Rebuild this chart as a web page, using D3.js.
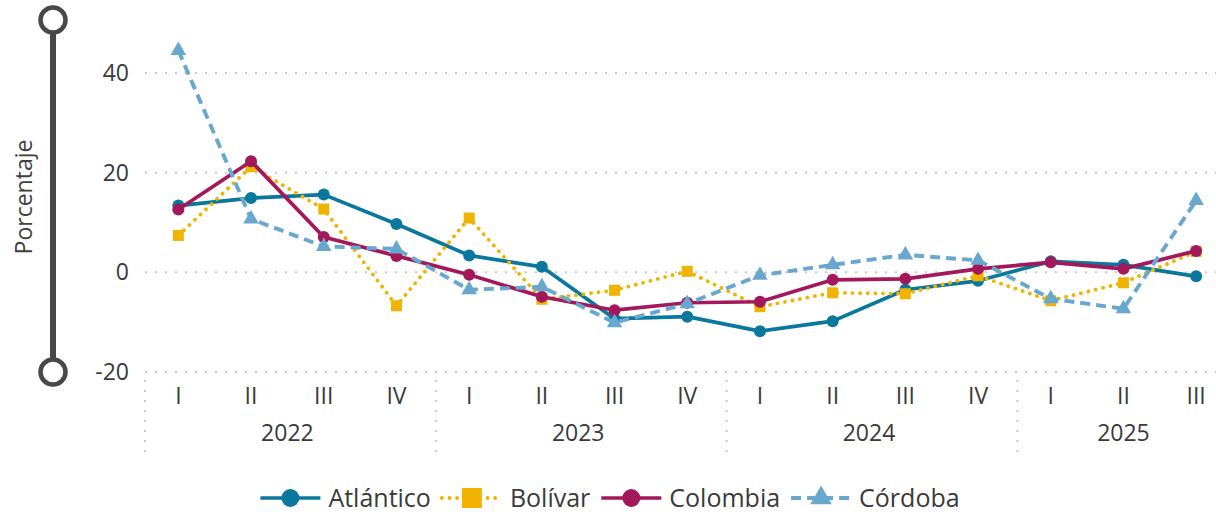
<!DOCTYPE html>
<html><head><meta charset="utf-8">
<script src="https://cdn.jsdelivr.net/npm/d3@7"></script>
<style>body{margin:0;background:#fff}svg{display:block}text{font-family:"Open Sans","Noto Sans",sans-serif}</style>
</head><body><svg id="c" width="1216" height="515"></svg>
<script>
const quarters = ["I","II","III","IV","I","II","III","IV","I","II","III","IV","I","II","III"];
const years = ["2022","2023","2024","2025"];
const yearOfPoint = [0,0,0,0,1,1,1,1,2,2,2,2,3,3,3];
const yTicks = [-20,0,20,40];
const atlantico = [13.4,14.9,15.6,9.7,3.4,1.1,-9.3,-8.9,-11.8,-9.8,-3.5,-1.7,2.2,1.5,-0.8];
const bolivar   = [7.4,21.2,12.7,-6.7,10.9,-5.4,-3.6,0.2,-6.9,-4.1,-4.3,-0.7,-5.7,-2.1,4.2];
const colombia  = [12.6,22.3,7.1,3.3,-0.5,-4.9,-7.6,-6.1,-5.9,-1.5,-1.3,0.7,2.0,0.7,4.3];
const cordoba   = [44.5,10.7,5.2,4.7,-3.5,-2.9,-10.1,-6.3,-0.6,1.5,3.5,2.4,-5.3,-7.3,14.4];

const series = [
  {name:"Atlántico", values:atlantico, color:"#0a779c", dash:null, width:3.7, marker:"circle"},
  {name:"Bolívar", values:bolivar, color:"#f0b400", dash:"0.1,7.5", width:3.8, marker:"square", cap:"round"},
  {name:"Colombia", values:colombia, color:"#a3185b", dash:null, width:3.7, marker:"circle"},
  {name:"Córdoba", values:cordoba, color:"#68a8cf", dash:"10,6", width:3.9, marker:"triangle"}
];

const svg = d3.select("#c");
const x = d3.scaleBand().domain(d3.range(quarters.length)).range([142, 142 + 72.7*quarters.length]).padding(0);
const xc = i => x(i) + x.bandwidth()/2;
const y = d3.scaleLinear().domain([-20,40]).range([372,73]);
const textColor = "#3a3a3a";

// gridlines
svg.append("g").selectAll("line").data(yTicks).join("line")
  .attr("x1",145).attr("x2",1216).attr("y1",d=>y(d)).attr("y2",d=>y(d))
  .attr("stroke","#c8c8c8").attr("stroke-width",2).attr("stroke-dasharray","2,8");

// y tick labels
svg.append("g").selectAll("text").data(yTicks).join("text")
  .attr("x",129).attr("y",d=>y(d)).attr("dy","0.35em").attr("text-anchor","end")
  .attr("font-size",23).attr("fill",textColor).text(d=>d);

// axis title bar
const bar = svg.append("g");
bar.append("line").attr("x1",53).attr("x2",53).attr("y1",20).attr("y2",372).attr("stroke","#4a4846").attr("stroke-width",6);
bar.selectAll("circle").data([20,372]).join("circle").attr("cx",53).attr("cy",d=>d).attr("r",12.5)
  .attr("fill","#fff").attr("stroke","#4a4846").attr("stroke-width",4.5);
svg.append("text").attr("transform","translate(24,197) rotate(-90)").attr("text-anchor","middle").attr("dy","0.35em")
  .attr("font-size",23).attr("fill","#404040").text("Porcentaje");

// x axis labels
svg.append("g").selectAll("text").data(quarters).join("text")
  .attr("x",(d,i)=>xc(i)).attr("y",396).attr("dy","0.35em").attr("text-anchor","middle")
  .attr("font-size",23).attr("fill",textColor).text(d=>d);
const yearIdx = years.map((yy,k)=>d3.range(quarters.length).filter(i=>yearOfPoint[i]===k));
svg.append("g").selectAll("text").data(years).join("text")
  .attr("x",(d,k)=>d3.mean(yearIdx[k], xc)).attr("y",433).attr("dy","0.35em").attr("text-anchor","middle")
  .attr("font-size",23).attr("fill",textColor).text(d=>d);
// separators
svg.append("g").selectAll("line").data(yearIdx.map(a=>a[0])).join("line")
  .attr("x1",d=>x(d)+3).attr("x2",d=>x(d)+3).attr("y1",380).attr("y2",456)
  .attr("stroke","#c8c8c8").attr("stroke-width",2).attr("stroke-dasharray","2,8");

// lines
const line = d3.line().x((d,i)=>xc(i)).y(d=>y(d));
const tri = d3.symbol().type(d3.symbolTriangle).size(105);
series.forEach(s=>{
  const g = svg.append("g");
  g.append("path").attr("d",line(s.values)).attr("fill","none").attr("stroke",s.color)
    .attr("stroke-width",s.width).attr("stroke-dasharray",s.dash).attr("stroke-linecap",s.cap||"butt")
    .attr("stroke-linejoin","round");
  const pts = g.selectAll(".m").data(s.values).join("g").attr("transform",(d,i)=>`translate(${xc(i)},${y(d)})`);
  if(s.marker==="circle") pts.append("circle").attr("r",6).attr("fill",s.color);
  if(s.marker==="square") pts.append("rect").attr("x",-5.5).attr("y",-5.5).attr("width",11).attr("height",11).attr("fill",s.color);
  if(s.marker==="triangle") pts.append("path").attr("d",tri()).attr("fill",s.color);
});

// legend
const lg = svg.append("g");
const items = [];
series.forEach((s,k)=>{
  const g = lg.append("g");
  g.append("line").attr("x1",0).attr("x2",60).attr("stroke",s.color).attr("stroke-width",s.width)
    .attr("stroke-dasharray",s.dash).attr("stroke-linecap",s.cap||"butt");
  if(s.marker==="circle") g.append("circle").attr("cx",30).attr("r",9).attr("fill",s.color);
  if(s.marker==="square") g.append("rect").attr("x",20).attr("y",-10).attr("width",20).attr("height",20).attr("fill",s.color);
  if(s.marker==="triangle") g.append("path").attr("transform","translate(30,0)").attr("d",d3.symbol().type(d3.symbolTriangle).size(200)()).attr("fill",s.color);
  const t = g.append("text").attr("x",68).attr("dy","0.35em").attr("font-size",25).attr("fill",textColor).text(s.name);
  items.push({g, w: 68 + t.node().getComputedTextLength()});
});
const gap = 11;
const total = d3.sum(items, d=>d.w) + gap*(items.length-1);
let cx = 610 - total/2;
items.forEach(it=>{ it.g.attr("transform",`translate(${cx},498)`); cx += it.w + gap; });
</script></body></html>
